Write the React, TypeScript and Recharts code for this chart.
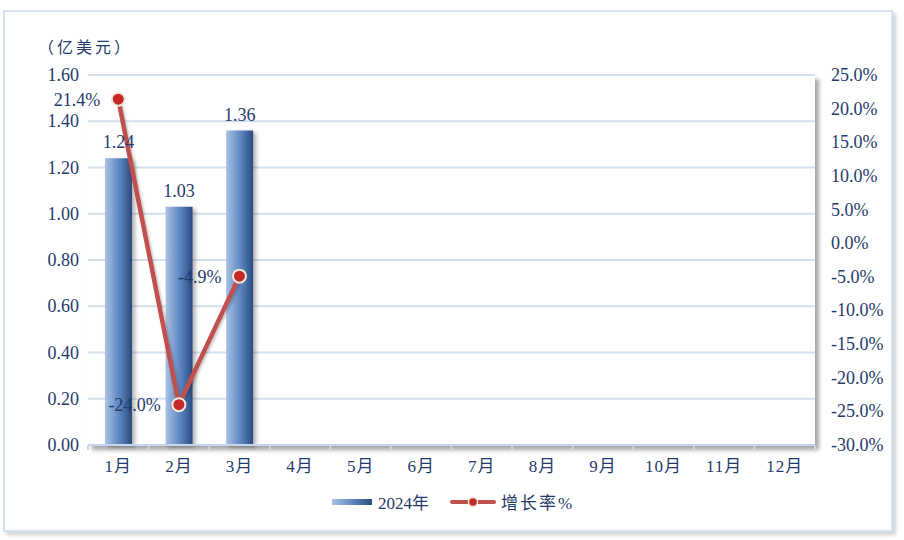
import React from 'react';
import { ComposedChart, Bar, Line, XAxis, YAxis, CartesianGrid, LabelList } from 'recharts';

const months = ['1月', '2月', '3月', '4月', '5月', '6月', '7月', '8月', '9月', '10月', '11月', '12月'];
const value2024: (number | null)[] = [1.24, 1.03, 1.36, null, null, null, null, null, null, null, null, null];
const growth: (number | null)[] = [21.4, -24.0, -4.9, null, null, null, null, null, null, null, null, null];
const leftTicks = [0, 0.2, 0.4, 0.6, 0.8, 1.0, 1.2, 1.4, 1.6];
const rightTicks = [-30, -25, -20, -15, -10, -5, 0, 5, 10, 15, 20, 25];

const data = months.map((m, i) => ({ month: m, v: value2024[i], g: growth[i] }));

const SERIF = "'Liberation Serif', 'Noto Sans CJK SC', serif";
const TXT = '#1f3b6b';

const PLOT_L = 88;
const PLOT_R = 815;
const BAND = (PLOT_R - PLOT_L) / months.length;

const XTick = (props: any) => {
  const { x, y, payload, index } = props;
  const bx = x - BAND / 2;
  return (
    <g>
      <line x1={bx} x2={bx} y1={y - 8} y2={y - 3} stroke="#c5d6ea" strokeWidth={2} />
      {index === months.length - 1 && (
        <line x1={bx + BAND} x2={bx + BAND} y1={y - 8} y2={y - 3} stroke="#c5d6ea" strokeWidth={2} />
      )}
      <text x={x} y={y + 19} textAnchor="middle" fill={TXT} fontSize={17} letterSpacing={1} fontFamily={SERIF} style={{ fontFamily: SERIF }}>
        {payload.value}
      </text>
    </g>
  );
};

const LeftTick = (props: any) => {
  const { x, y, payload } = props;
  return (
    <text x={x - 1} y={y + 6} textAnchor="end" fill={TXT} fontSize={18} fontFamily={SERIF} style={{ fontFamily: SERIF }}>
      {Number(payload.value).toFixed(2)}
    </text>
  );
};

const RightTick = (props: any) => {
  const { x, y, payload } = props;
  return (
    <text x={x + 8} y={y + 6} textAnchor="start" fill={TXT} fontSize={18} fontFamily={SERIF} style={{ fontFamily: SERIF }}>
      {Number(payload.value).toFixed(1) + '%'}
    </text>
  );
};

const LegendBox = () => (
  <div
    style={{
      position: 'absolute',
      left: 0,
      top: 489,
      width: 904,
      display: 'flex',
      justifyContent: 'center',
      alignItems: 'center',
      fontFamily: SERIF,
      fontSize: 17,
      color: TXT,
    }}
  >
    <svg width={44} height={10} style={{ marginRight: 4 }}>
      <defs>
        <linearGradient id="legGrad" x1="0" y1="0" x2="1" y2="0">
          <stop offset="0%" stopColor="#a9c2e4" />
          <stop offset="55%" stopColor="#5a84c0" />
          <stop offset="100%" stopColor="#2b4a7d" />
        </linearGradient>
      </defs>
      <rect x={2} y={2} width={40} height={6} fill="url(#legGrad)" />
    </svg>
    <span style={{ marginRight: 20, fontFamily: SERIF }}>2024年</span>
    <svg width={48} height={14} style={{ marginRight: 4 }}>
      <line x1={3} x2={45} y1={7} y2={7} stroke="#c0504d" strokeWidth={4} strokeLinecap="round" />
      <circle cx={24} cy={7} r={4.5} fill="#c62828" stroke="#f2e8dc" strokeWidth={1.5} />
    </svg>
    <span style={{ letterSpacing: 2, fontFamily: SERIF }}>增长率%</span>
  </div>
);

const Dot = (props: any) => {
  const { cx, cy, value } = props;
  if (value == null || cx == null || cy == null) return null;
  return <circle cx={cx} cy={cy} r={6.5} fill="#c62828" stroke="#f2e8dc" strokeWidth={2} />;
};

export default function App() {
  return (
    <div style={{ position: 'absolute', left: 0, top: 0, width: 904, height: 540, background: '#fff', overflow: 'hidden' }}>
      <div
        style={{
          position: 'absolute',
          left: 3,
          top: 10,
          width: 886,
          height: 518,
          border: '2px solid #d5e2f1',
          boxShadow: '3px 3px 4px rgba(0,0,0,0.18)',
          background: '#fff',
        }}
      />
      <div
        style={{
          position: 'absolute',
          left: PLOT_L,
          top: 75,
          width: PLOT_R - PLOT_L,
          height: 371,
          background: '#fff',
          boxShadow: '4px 4px 4px rgba(0,0,0,0.35)',
        }}
      />
      <div
        style={{
          position: 'absolute',
          left: 38,
          top: 34,
          fontFamily: SERIF,
          fontSize: 16,
          color: TXT,
          letterSpacing: 3,
        }}
      >
        （亿美元）
      </div>
      <div style={{ position: 'absolute', left: 0, top: 0 }}>
        <ComposedChart width={904} height={540} data={data} margin={{ top: 75, right: 0, bottom: 65, left: 0 }}>
          <defs>
            <linearGradient id="barGrad" x1="0" y1="0" x2="1" y2="0">
              <stop offset="0%" stopColor="#a9c2e4" />
              <stop offset="55%" stopColor="#5a84c0" />
              <stop offset="100%" stopColor="#2b4a7d" />
            </linearGradient>
            <filter id="barShadow" x="-20%" y="-5%" width="160%" height="115%">
              <feDropShadow dx={3} dy={2} stdDeviation={2} floodColor="#000" floodOpacity={0.3} />
            </filter>
            <filter id="lineShadow" x="-20%" y="-20%" width="140%" height="140%">
              <feDropShadow dx={1.5} dy={1.5} stdDeviation={1.2} floodColor="#000" floodOpacity={0.25} />
            </filter>
          </defs>
          <CartesianGrid vertical={false} stroke="#d3e0f0" strokeWidth={2} yAxisId="left" />
          <XAxis
            dataKey="month"
            height={30}
            axisLine={{ stroke: '#c5d6ea', strokeWidth: 2 }}
            tickLine={false}
            tick={<XTick />}
            interval={0}
          />
          <YAxis
            yAxisId="left"
            orientation="left"
            width={PLOT_L}
            domain={[0, 1.6]}
            ticks={leftTicks}
            axisLine={false}
            tickLine={false}
            tick={<LeftTick />}
            interval={0}
          />
          <YAxis
            yAxisId="right"
            orientation="right"
            width={904 - PLOT_R}
            domain={[-30, 25]}
            ticks={rightTicks}
            axisLine={false}
            tickLine={false}
            tick={<RightTick />}
            interval={0}
          />
          <Bar yAxisId="left" dataKey="v" barSize={27} fill="url(#barGrad)" filter="url(#barShadow)" isAnimationActive={false}>
            <LabelList
              dataKey="v"
              position="top"
              offset={10}
              formatter={(v: any) => (v == null ? '' : Number(v).toFixed(2))}
              style={{ fill: TXT, fontSize: 18, fontFamily: SERIF }}
            />
          </Bar>
          <Line
            yAxisId="right"
            dataKey="g"
            stroke="#c0504d"
            strokeWidth={4.5}
            dot={<Dot />}
            activeDot={false}
            isAnimationActive={false}
            connectNulls={false}
            filter="url(#lineShadow)"
          >
            <LabelList
              dataKey="g"
              position="left"
              offset={18}
              formatter={(v: any) => (v == null ? '' : Number(v).toFixed(1) + '%')}
              style={{ fill: TXT, fontSize: 18, fontFamily: SERIF }}
            />
          </Line>
        </ComposedChart>
      </div>
      <LegendBox />
    </div>
  );
}
